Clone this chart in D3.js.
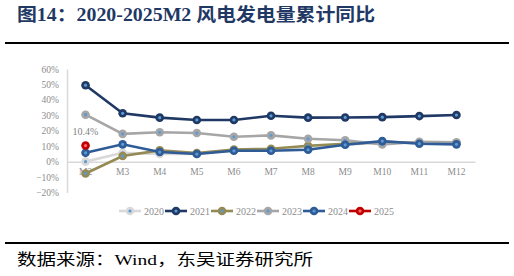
<!DOCTYPE html>
<meta charset="utf-8">
<script src="https://cdn.jsdelivr.net/npm/d3@7"></script>
<style>
  body { margin: 0; background: #fff; }
  svg text { font-family: "Liberation Serif", "Times New Roman", serif; }
</style>
<div id="chart"></div>
<script>
  const months = ['M2', 'M3', 'M4', 'M5', 'M6', 'M7', 'M8', 'M9', 'M10', 'M11', 'M12']
  const yTicks = [-0.2, -0.1, 0, 0.1, 0.2, 0.3, 0.4, 0.5, 0.6]

  const v2020 = [0.0, 5.7, 4.9, 5.0, 7.3, 7.8, 9.6, 11.0, 12.2, 12.2, 12.0]
  const v2021 = [49.5, 31.3, 28.5, 27.0, 27.0, 29.7, 28.5, 28.6, 28.8, 29.5, 30.2]
  const v2022 = [-7.7, 3.6, 7.3, 5.5, 7.9, 8.3, 10.3, 11.6, 12.6, 12.4, 12.0]
  const v2023 = [30.4, 18.0, 19.0, 18.5, 16.1, 17.0, 14.8, 13.8, 11.2, 12.9, 12.5]
  const v2024 = [5.7, 11.2, 6.2, 4.9, 7.0, 7.0, 7.7, 10.9, 13.3, 11.6, 11.2]
  const v2025 = [10.4]

  const seriesNames = ['2020', '2021', '2022', '2023', '2024', '2025']
  const seriesColors = ['#d9d9d9', '#1f3864', '#948a54', '#a6a6a6', '#2f5b97', '#c00000']
  const seriesValues = [v2020, v2021, v2022, v2023, v2024, v2025]

  const width = 514, height = 276

  const svg = d3.select('#chart').append('svg')
    .attr('width', width)
    .attr('height', height)

  // title
  svg.append('text')
    .attr('x', 17).attr('y', 21)
    .attr('fill', '#1f3864')
    .attr('textLength', 358)
    .attr('lengthAdjust', 'spacingAndGlyphs')
    .style('font-family', '"Liberation Serif", "Noto Sans CJK SC", serif')
    .style('font-weight', 'bold')
    .style('font-size', '18px')
    .text('图14：2020-2025M2 风电发电量累计同比')

  svg.append('line').attr('x1', 5).attr('x2', 509).attr('y1', 43).attr('y2', 43)
    .attr('stroke', '#000').attr('stroke-width', 2)
  svg.append('line').attr('x1', 5).attr('x2', 509).attr('y1', 243).attr('y2', 243)
    .attr('stroke', '#000').attr('stroke-width', 2)

  svg.append('text')
    .attr('x', 17).attr('y', 265)
    .attr('fill', '#000')
    .attr('textLength', 296)
    .attr('lengthAdjust', 'spacingAndGlyphs')
    .style('font-family', '"Liberation Serif", "Noto Sans CJK SC", serif')
    .style('font-size', '15.5px')
    .text('数据来源：Wind，东吴证券研究所')

  const x = d3.scaleBand().domain(months).range([67, 475])
  const y = d3.scaleLinear().domain([-0.2, 0.6]).range([192.5, 69])

  // y axis
  const yAxis = svg.append('g')
    .attr('transform', 'translate(67,0)')
    .call(d3.axisLeft(y).tickValues(yTicks).tickFormat(d3.format('.0%')).tickSize(0).tickPadding(8))
  yAxis.select('.domain').attr('stroke', '#d9d9d9').attr('stroke-width', 1.5)
  yAxis.selectAll('text').attr('fill', '#8c8c8c').style('font-size', '9.5px')
    .style('font-family', '"Liberation Serif", serif')

  // x axis at zero
  const xAxis = svg.append('g')
    .attr('transform', `translate(0,${y(0)})`)
    .call(d3.axisBottom(x).tickSize(0).tickPadding(7))
  xAxis.select('.domain').attr('stroke', '#d9d9d9').attr('stroke-width', 1.5)
  xAxis.selectAll('text').attr('fill', '#8c8c8c').style('font-size', '9.5px')
    .style('font-family', '"Liberation Serif", serif')

  const line = d3.line()
    .x((d, i) => x(months[i]) + x.bandwidth() / 2)
    .y(d => y(d / 100))

  seriesValues.forEach((vals, s) => {
    const g = svg.append('g')
    const c = seriesColors[s]
    g.append('path').datum(vals)
      .attr('d', line)
      .attr('fill', 'none')
      .attr('stroke', c)
      .attr('stroke-width', 2.6)
    const pts = g.selectAll('g.pt').data(vals).enter().append('g')
      .attr('transform', (d, i) => `translate(${x(months[i]) + x.bandwidth() / 2},${y(d / 100)})`)
    pts.append('circle').attr('r', 4.3).attr('fill', c)
    pts.append('circle').attr('r', 1.6)
      .attr('fill', s === 5 ? '#ff6b6b' : '#5b9bd5')
  })

  // data label for 2025
  svg.append('text')
    .attr('x', x('M2') + x.bandwidth() / 2)
    .attr('y', y(v2025[0] / 100) - 11)
    .attr('text-anchor', 'middle')
    .attr('fill', '#7f7f7f')
    .style('font-size', '10px')
    .text(d3.format('.1f')(v2025[0]) + '%')

  // legend
  const legendX = [119, 165, 211, 257, 303, 349]
  const legend = svg.append('g')
  seriesNames.forEach((name, s) => {
    const g = legend.append('g').attr('transform', `translate(${legendX[s]},211)`)
    g.append('line').attr('x1', 0).attr('x2', 22).attr('y1', 0).attr('y2', 0)
      .attr('stroke', seriesColors[s]).attr('stroke-width', 2.6)
    g.append('circle').attr('cx', 11).attr('r', 4.3).attr('fill', seriesColors[s])
    g.append('circle').attr('cx', 11).attr('r', 1.6).attr('fill', s === 5 ? '#ff6b6b' : '#5b9bd5')
    g.append('text').attr('x', 25).attr('y', 3.5)
      .attr('fill', '#8c8c8c')
      .style('font-size', '10px')
      .text(name)
  })
</script>
